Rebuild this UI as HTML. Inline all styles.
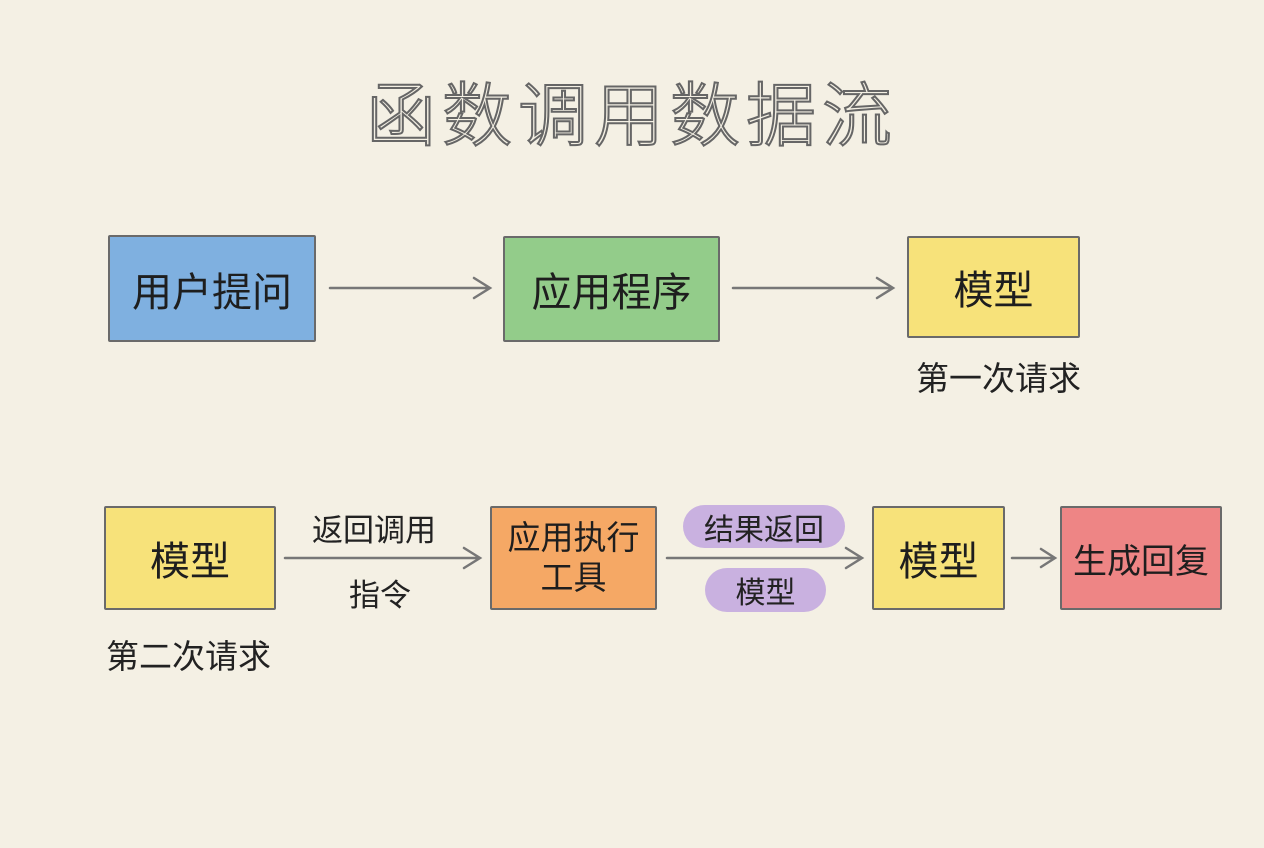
<!DOCTYPE html>
<html><head><meta charset="utf-8"><style>
body{margin:0;width:1264px;height:848px;background:#f4f0e4;position:relative;overflow:hidden;font-family:"Liberation Sans","Noto Sans CJK SC",sans-serif;color:#222}
.t{position:absolute;white-space:nowrap}
.box{position:absolute;border:2px solid #6a6a6a;box-sizing:border-box;display:flex;align-items:center;justify-content:center;text-align:center;color:#1e1e1e;border-radius:2px}
.blob{position:absolute;border-radius:22px;background:#c9b1e0;display:flex;align-items:center;justify-content:center;font-size:30px}
</style></head><body>
<div class="t" style="left:0;width:1264px;top:60px;text-align:center;font-size:70px;font-weight:300;color:#f4f0e4;-webkit-text-stroke:2px #666;letter-spacing:6px">函数调用数据流</div>

<div class="box" style="left:108px;top:235px;width:208px;height:107px;background:#7fb0e0;font-size:40px">用户提问</div>
<div class="box" style="left:503px;top:236px;width:217px;height:106px;background:#93cc8a;font-size:40px">应用程序</div>
<div class="box" style="left:907px;top:236px;width:173px;height:102px;background:#f7e27a;font-size:40px">模型</div>
<div class="t" style="left:916px;top:352px;font-size:33px">第一次请求</div>

<div class="box" style="left:104px;top:506px;width:172px;height:104px;background:#f7e27a;font-size:40px">模型</div>
<div class="t" style="left:106px;top:630px;font-size:33px">第二次请求</div>
<div class="t" style="left:312px;top:505px;font-size:31px">返回调用</div>
<div class="t" style="left:349px;top:570px;font-size:31px">指令</div>
<div class="box" style="left:490px;top:506px;width:167px;height:104px;background:#f5a865;font-size:33px;line-height:40px">应用执行<br>工具</div>
<div class="blob" style="left:683px;top:505px;width:162px;height:43px">结果返回</div>
<div class="blob" style="left:705px;top:568px;width:121px;height:44px">模型</div>
<div class="box" style="left:872px;top:506px;width:133px;height:104px;background:#f7e27a;font-size:40px">模型</div>
<div class="box" style="left:1060px;top:506px;width:162px;height:104px;background:#ee8585;font-size:34px">生成回复</div>

<svg width="1264" height="848" style="position:absolute;left:0;top:0" fill="none" stroke="#777" stroke-width="2.5" stroke-linecap="round">
<path d="M330 288H488M474 278L490 288L474 298"/>
<path d="M733 288H891M877 278L893 288L877 298"/>
<path d="M285 558H478M464 548L480 558L464 568"/>
<path d="M667 558H860M846 548L862 558L846 568"/>
<path d="M1012 558H1053M1041 549L1055 558L1041 567"/>
</svg>
</body></html>
